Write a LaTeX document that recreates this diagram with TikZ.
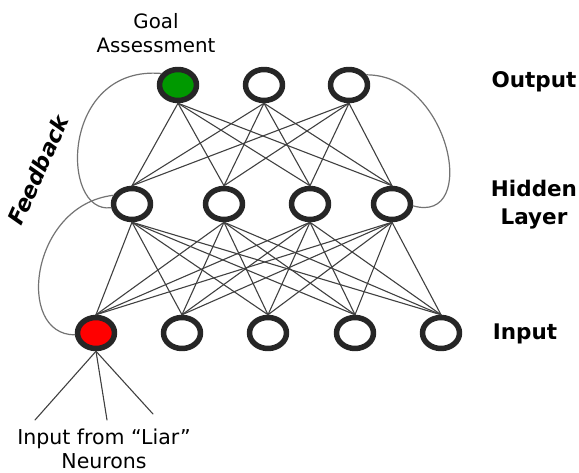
\documentclass[tikz,border=0pt]{standalone}
\usepackage{fontspec}
\setmainfont{DejaVu Sans}
\usetikzlibrary{shapes.geometric}
\tikzset{neuron/.style={ellipse,draw=black!85,line width=5.5pt,fill=white,minimum width=37pt,minimum height=31pt,inner sep=0pt},
  link/.style={black!75,line width=1.1pt},
  loopback/.style={black!55,line width=1.2pt}}
\begin{document}
\begin{tikzpicture}[x=1pt,y=-1pt,line cap=round,line join=round]
  \useasboundingbox (0,0) rectangle (579,473);
  % output layer
  \node[neuron,fill=green!60!black] (O1) at (178,85) {};
  \node[neuron] (O2) at (264,85) {};
  \node[neuron] (O3) at (349,85) {};
  % hidden layer
  \node[neuron] (H1) at (132,204) {};
  \node[neuron] (H2) at (224,204) {};
  \node[neuron] (H3) at (310,204) {};
  \node[neuron] (H4) at (392,204) {};
  % input layer
  \node[neuron,fill=red] (I1) at (96,333) {};
  \node[neuron] (I2) at (182,333) {};
  \node[neuron] (I3) at (268,333) {};
  \node[neuron] (I4) at (355,333) {};
  \node[neuron] (I5) at (441,333) {};
  \coordinate (L1) at (35,420);
  \coordinate (L2) at (107,420);
  \coordinate (L3) at (153,414);

  \foreach \o in {1,2,3} \foreach \h in {1,...,4} \draw[link] (O\o.south) -- (H\h.north);
  \foreach \h in {1,...,4} \foreach \i in {1,...,5} \draw[link] (H\h.south) -- (I\i.north);
  \draw[link] (I1.south) -- (L1);
  \draw[link] (I1.south) -- (L2);
  \draw[link] (I1.south) -- (L3);

  % feedback loops
  \draw[loopback] (O1.145) .. controls (60,65) and (60,215) .. (H1.190);
  \draw[loopback] (H1.155) .. controls (30,205) and (15,335) .. (I1.185);
  \draw[loopback] (O3.30) .. controls (450,75) and (480,225) .. (H4.355);

  % labels
  \node[font=\fontsize{19.8}{24}\selectfont,align=center] (goal) at (156,33) {Goal\\Assessment};
  \node[font=\bfseries\fontsize{21.5}{26}\selectfont] (outlbl) at (534,82) {Output};
  \node[font=\bfseries\fontsize{21.5}{28}\selectfont,align=center] (hidlbl) at (534,205) {Hidden\\Layer};
  \node[font=\bfseries\fontsize{21.5}{26}\selectfont] (inlbl) at (525,334) {Input};
  \node[font=\bfseries\itshape\fontsize{22}{26}\selectfont,rotate=66,inner sep=0pt] (feed) at (38,170) {Feedback};
  \node[font=\fontsize{20.5}{24}\selectfont,align=center,inner sep=0pt] (liar) at (104,449) {Input from “Liar”\\Neurons};
\end{tikzpicture}
\end{document}
